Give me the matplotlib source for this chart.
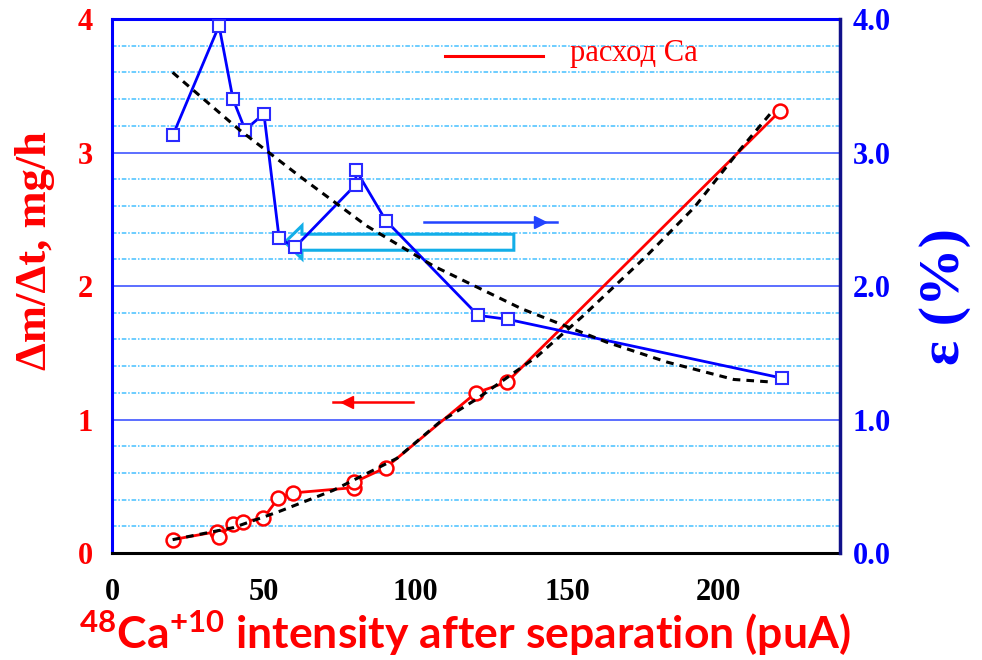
import matplotlib
matplotlib.use("Agg")
import matplotlib.pyplot as plt
import matplotlib.patches as mpatches
from matplotlib.ticker import FormatStrFormatter

# Ca consumption rate (mg/h) vs beam intensity
ca_x = [20, 34.5, 35.3, 39.8, 43.3, 49.9, 54.8, 59.7, 79.8, 79.8, 90.3, 120, 130.2, 220.2]
ca_y = [0.10, 0.16, 0.12, 0.22, 0.235, 0.26, 0.41, 0.45, 0.49, 0.53, 0.64, 1.20, 1.28, 3.31]

# efficiency eps (%) vs beam intensity
eff_x = [20.1, 35.3, 39.9, 43.9, 50.1, 55.1, 60.3, 80.4, 80.4, 90.3, 120.7, 130.6, 220.9]
eff_y = [3.13, 3.95, 3.40, 3.17, 3.29, 2.36, 2.29, 2.76, 2.87, 2.49, 1.78, 1.75, 1.31]

# hand-drawn trend curves
ca_fit_x = [20, 40, 55, 73, 94, 108, 120, 140, 155, 176, 192, 207, 217]
ca_fit_y = [0.10, 0.19, 0.31, 0.47, 0.71, 0.98, 1.15, 1.47, 1.77, 2.22, 2.59, 3.02, 3.29]
eff_fit_x = [20, 42, 62, 84, 106, 135, 163, 183, 205, 218]
eff_fit_y = [3.60, 3.17, 2.82, 2.45, 2.15, 1.83, 1.58, 1.43, 1.30, 1.28]

x_ticks = [0, 50, 100, 150, 200]
y_ticks = [0, 1, 2, 3, 4]

RED = "#ff0000"
BLUE = "#0000ff"
serif = "Liberation Serif"

plt.rcParams["mathtext.fontset"] = "custom"
plt.rcParams["mathtext.rm"] = "Lato:bold"
plt.rcParams["mathtext.default"] = "rm"

fig = plt.figure(figsize=(9.82, 6.60), dpi=100)
ax = fig.add_axes([0.114, 0.1621, 0.7414, 0.8091])
ax2 = ax.twinx()

ax.set_xlim(0, 240)
ax.set_ylim(0, 4)
ax2.set_ylim(0, 4)

# grid: solid lines at integers, dash-dot at 0.2 steps
ax.grid(False)
for v in [0.2 * i for i in range(1, 20) if i % 5]:
    ax.axhline(v, color="#45c0ff", lw=1.1, dashes=(3, 1.2, 1, 1.2), zorder=0)
for v in [1, 2, 3]:
    ax.axhline(v, color="#3f55ff", lw=1.2, zorder=0)

ax.plot(ca_x, ca_y, color=RED, lw=2, marker="o", ms=10, mfc="white",
        mec=RED, mew=1.8, zorder=3)
ax.plot(ca_fit_x, ca_fit_y, color="black", lw=2.2, ls=(0, (2.5, 2)), zorder=4)

ax2.plot(eff_x, eff_y, color=BLUE, lw=2, marker="s", ms=9, mfc="white",
         mec="#2a2aff", mew=1.5, zorder=3)
ax2.plot(eff_fit_x, eff_fit_y, color="black", lw=2.2, ls=(0, (2.5, 2)), zorder=4)

# ticks and labels
ax.set_xticks(x_ticks)
ax.set_yticks(y_ticks)
ax2.set_yticks(y_ticks)
ax2.yaxis.set_major_formatter(FormatStrFormatter("%.1f"))
ax.tick_params(axis="both", which="both", length=0)
ax2.tick_params(axis="both", which="both", length=0)
ax.tick_params(axis="x", pad=18, labelsize=22, labelcolor="black")
ax.tick_params(axis="y", pad=14, labelsize=22, labelcolor=RED)
ax2.tick_params(axis="y", pad=9, labelsize=22, labelcolor=BLUE)
for lab in ax.get_xticklabels() + ax.get_yticklabels() + ax2.get_yticklabels():
    lab.set_fontfamily(serif)
    lab.set_fontweight("bold")

ax.set_ylabel("\u0394m/\u0394t, mg/h", color=RED, fontsize=32, fontfamily=serif,
              fontweight="bold")
ax.yaxis.set_label_coords(-0.078, 0.566)
ax2.set_ylabel("\u03b5 (%)", color=BLUE, fontsize=42, fontfamily=serif,
               fontweight="bold", rotation=90)
ax2.yaxis.set_label_coords(1.108, 0.48)

fig.text(0.4735, 0.041, r"$^{48}$Ca$^{+10}$ intensity after separation (puA)",
         color=RED, fontsize=32, fontfamily="Lato", fontweight="bold",
         ha="center", va="center")

# frame
for s in ["left", "top"]:
    ax.spines[s].set_color(BLUE)
    ax.spines[s].set_linewidth(2.2)
ax.spines["bottom"].set_color("black")
ax.spines["bottom"].set_linewidth(2.2)
ax.spines["right"].set_visible(False)
for s in ["left", "top", "bottom"]:
    ax2.spines[s].set_visible(False)
ax2.spines["right"].set_color("#10108a")
ax2.spines["right"].set_linewidth(2.5)

# in-plot legend line and direction arrows
ax.plot([0.457, 0.592], [0.931, 0.931], color=RED, lw=2.2, transform=ax.transAxes)
ax.text(0.629, 0.936, "\u0440\u0430\u0441\u0445\u043e\u0434 Ca", color=RED, fontsize=22,
        fontfamily=serif, va="center", ha="left", transform=ax.transAxes)

ax.plot([0.429, 0.611], [0.620, 0.620], color="#2244ff", lw=1.8, transform=ax.transAxes)
ax.plot([0.588], [0.620], marker=">", color="#2244ff", ms=9, transform=ax.transAxes)
ax.plot([0.304, 0.413], [0.283, 0.283], color=RED, lw=1.8, transform=ax.transAxes)
ax.plot([0.323], [0.283], marker="<", color=RED, ms=9, transform=ax.transAxes)

arr = mpatches.FancyArrow(0.552, 0.582, -(0.552 - 0.2376), 0, width=0.030,
                          head_width=0.062, head_length=0.0234,
                          length_includes_head=True, transform=ax.transAxes,
                          fc="none", ec="#12aee8", lw=2.2, zorder=5)
ax.add_patch(arr)

fig.savefig("out.png", dpi=100)
